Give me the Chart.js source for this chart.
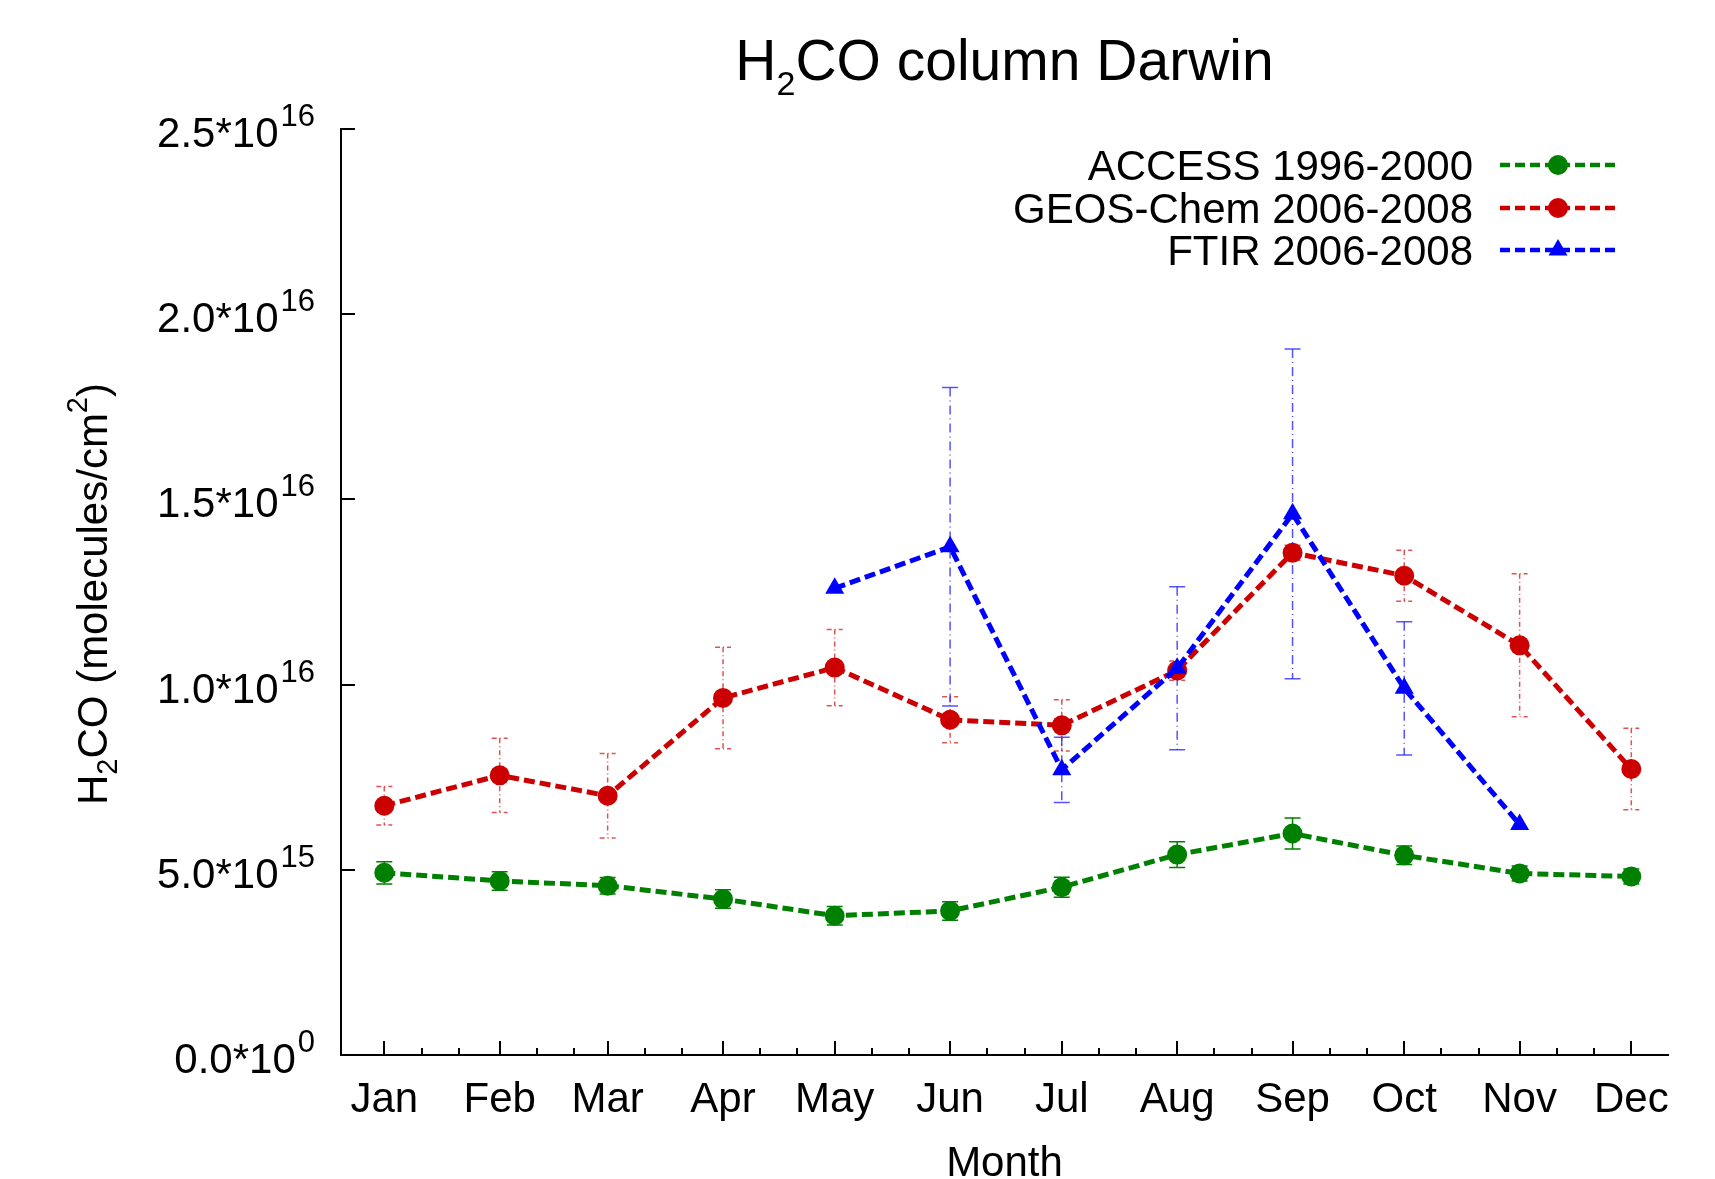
<!DOCTYPE html>
<html>
<head>
<meta charset="utf-8">
<script src="https://cdn.jsdelivr.net/npm/chart.js@4"></script>
<style>
  html, body { margin: 0; padding: 0; background: #fff; }
  canvas { display: block; }
</style>
</head>
<body>
<canvas id="chart" width="1715" height="1179"></canvas>
<script>
// month labels and the day of year where each one sits (leap year, 15th of month)
const months = ['Jan', 'Feb', 'Mar', 'Apr', 'May', 'Jun', 'Jul', 'Aug', 'Sep', 'Oct', 'Nov', 'Dec'];
const monthDays = [15, 46, 75, 106, 136, 167, 197, 228, 259, 289, 320, 350];

// ACCESS 1996-2000
const accessVals = [4.92e15, 4.70e15, 4.57e15, 4.21e15, 3.76e15, 3.89e15, 4.53e15, 5.41e15, 5.98e15, 5.39e15, 4.90e15, 4.82e15];
const accessErr = [0.30e15, 0.25e15, 0.22e15, 0.25e15, 0.25e15, 0.25e15, 0.27e15, 0.35e15, 0.42e15, 0.25e15, 0.20e15, 0.20e15];

// GEOS-Chem 2006-2008
const geosVals = [6.73e15, 7.55e15, 7.00e15, 9.64e15, 10.46e15, 9.05e15, 8.90e15, 10.38e15, 13.56e15, 12.94e15, 11.06e15, 7.72e15];
const geosErr = [0.52e15, 1.00e15, 1.14e15, 1.37e15, 1.03e15, 0.62e15, 0.69e15, 0.26e15, 0.20e15, 0.69e15, 1.93e15, 1.10e15];

// FTIR 2006-2008 (May to Nov only)
const ftirMonths = ['May', 'Jun', 'Jul', 'Aug', 'Sep', 'Oct', 'Nov'];
const ftirVals = [12.6e15, 13.72e15, 7.70e15, 10.44e15, 14.61e15, 9.90e15, 6.22e15];
const ftirErr = [null, 4.3e15, 0.88e15, 2.2e15, 4.45e15, 1.8e15, null];

// y axis tick labels
const yTickVals = [0, 5e15, 1e16, 1.5e16, 2e16, 2.5e16];
const yTickBase = ['0.0*10', '5.0*10', '1.0*10', '1.5*10', '2.0*10', '2.5*10'];
const yTickExp = ['0', '15', '16', '16', '16', '16'];

const FONT = '"Liberation Sans", Arial, sans-serif';
const GREEN = '#008000', RED = '#cc0000', BLUE = '#0000ff';

const accessX = monthDays;
const ftirX = ftirMonths.map(m => monthDays[months.indexOf(m)]);

const toPoints = (xs, ys) => xs.map((x, i) => ({ x, y: ys[i] }));

function richText(ctx, parts, x, y, align) {
  let w = 0;
  parts.forEach(p => {
    ctx.font = p.size + 'px ' + FONT;
    p.w = ctx.measureText(p.t).width + (p.gap || 0);
    w += p.w;
  });
  let cx = align === 'right' ? x - w : align === 'center' ? x - w / 2 : x;
  parts.forEach(p => {
    ctx.font = p.size + 'px ' + FONT;
    ctx.fillText(p.t, cx + (p.gap || 0), y + (p.dy || 0));
    cx += p.w;
  });
}

function drawErrors(chart, xs, ys, errs, color, dash, capDash) {
  const { ctx } = chart;
  const xs_ = chart.scales.x, ys_ = chart.scales.y;
  ctx.save();
  ctx.strokeStyle = color;
  ctx.lineWidth = 1.5;
  xs.forEach((xv, i) => {
    if (errs[i] == null) return;
    const px = xs_.getPixelForValue(xv);
    const top = ys_.getPixelForValue(ys[i] + errs[i]);
    const bot = ys_.getPixelForValue(ys[i] - errs[i]);
    ctx.setLineDash(dash);
    ctx.beginPath(); ctx.moveTo(px, top); ctx.lineTo(px, bot); ctx.stroke();
    ctx.setLineDash(capDash);
    ctx.beginPath();
    ctx.moveTo(px - 8, top); ctx.lineTo(px + 8, top);
    ctx.moveTo(px - 8, bot); ctx.lineTo(px + 8, bot);
    ctx.stroke();
  });
  ctx.restore();
}

const errorBars = {
  id: 'errorBars',
  beforeDatasetsDraw(chart) {
    drawErrors(chart, accessX, accessVals, accessErr, GREEN, [], []);
    drawErrors(chart, monthDays, geosVals, geosErr, 'rgba(214,40,40,0.8)', [5, 3, 1, 3], [5, 3, 1, 3]);
    drawErrors(chart, ftirX, ftirVals, ftirErr, 'rgba(40,40,255,0.8)', [9, 4, 1, 4], []);
  }
};

const decorations = {
  id: 'decorations',
  afterDraw(chart) {
    const { ctx, chartArea: area } = chart;
    const xs = chart.scales.x, ys = chart.scales.y;
    ctx.save();

    // inward tick marks
    ctx.strokeStyle = '#000';
    ctx.lineWidth = 2;
    ctx.beginPath();
    yTickVals.forEach(v => {
      const py = Math.round(ys.getPixelForValue(v));
      ctx.moveTo(area.left, py); ctx.lineTo(area.left + 14, py);
    });
    monthDays.forEach(d => {
      const px = Math.round(xs.getPixelForValue(d));
      ctx.moveTo(px, area.bottom); ctx.lineTo(px, area.bottom - 14);
      [10, 20].forEach(k => {
        if (d + k >= xs.max) return;
        const mx = Math.round(xs.getPixelForValue(d + k));
        ctx.moveTo(mx, area.bottom); ctx.lineTo(mx, area.bottom - 7);
      });
    });
    ctx.stroke();

    ctx.fillStyle = '#000';
    ctx.textBaseline = 'alphabetic';
    ctx.textAlign = 'left';

    // y tick labels with exponent
    yTickVals.forEach((v, i) => {
      const py = ys.getPixelForValue(v);
      richText(ctx, [
        { t: yTickBase[i], size: 42 },
        { t: yTickExp[i], size: 31, dy: -21, gap: 2 }
      ], 315, py + 18, 'right');
    });

    // title
    richText(ctx, [
      { t: 'H', size: 57 },
      { t: '2', size: 34, dy: 15 },
      { t: 'CO column Darwin', size: 57 }
    ], (area.left + area.right) / 2, 80, 'center');

    // y axis title
    ctx.save();
    ctx.translate(107, (area.top + area.bottom) / 2 + 2);
    ctx.rotate(-Math.PI / 2);
    richText(ctx, [
      { t: 'H', size: 42 },
      { t: '2', size: 29, dy: 10 },
      { t: 'CO (molecules/cm', size: 42 },
      { t: '2', size: 29, dy: -20 },
      { t: ')', size: 42 }
    ], 0, 0, 'center');
    ctx.restore();

    // legend
    const rows = [165, 208, 250];
    chart.data.datasets.forEach((ds, i) => {
      const ly = rows[i];
      ctx.fillStyle = '#000';
      richText(ctx, [{ t: ds.label, size: 42 }], 1473, ly + 15, 'right');
      ctx.strokeStyle = ds.borderColor;
      ctx.lineWidth = 4.5;
      ctx.setLineDash([10, 5]);
      ctx.beginPath(); ctx.moveTo(1500, ly); ctx.lineTo(1617, ly); ctx.stroke();
      ctx.setLineDash([]);
      ctx.fillStyle = ds.borderColor;
      ctx.beginPath();
      if (ds.pointStyle === 'triangle') {
        const r = 11;
        ctx.moveTo(1558, ly - r);
        ctx.lineTo(1558 + r * Math.sin(2 * Math.PI / 3), ly + r / 2);
        ctx.lineTo(1558 - r * Math.sin(2 * Math.PI / 3), ly + r / 2);
        ctx.closePath();
      } else {
        ctx.arc(1558, ly, 10, 0, Math.PI * 2);
      }
      ctx.fill();
    });

    ctx.restore();
  }
};

const lineStyle = color => ({
  borderColor: color,
  backgroundColor: color,
  pointBackgroundColor: color,
  pointBorderWidth: 0,
  borderWidth: 5,
  borderDash: [11, 5],
  tension: 0
});

new Chart(document.getElementById('chart').getContext('2d'), {
  type: 'line',
  data: {
    datasets: [
      { label: 'ACCESS 1996-2000', data: toPoints(accessX, accessVals), order: 3, pointStyle: 'circle', pointRadius: 10, ...lineStyle(GREEN) },
      { label: 'GEOS-Chem 2006-2008', data: toPoints(monthDays, geosVals), order: 2, pointStyle: 'circle', pointRadius: 10, ...lineStyle(RED) },
      { label: 'FTIR 2006-2008', data: toPoints(ftirX, ftirVals), order: 1, pointStyle: 'triangle', pointRadius: 11, ...lineStyle(BLUE) }
    ]
  },
  options: {
    responsive: false,
    animation: false,
    layout: { padding: { top: 129, right: 47, left: 0, bottom: 0 } },
    plugins: { legend: { display: false }, title: { display: false }, tooltip: { enabled: false } },
    scales: {
      x: {
        type: 'linear',
        min: 3.37,
        max: 359.86,
        grid: { display: true, drawOnChartArea: false, drawTicks: false },
        border: { display: true, color: '#000', width: 2 },
        afterBuildTicks: s => { s.ticks = monthDays.map(v => ({ value: v })); },
        afterFit: s => { s.height = 124; },
        ticks: {
          autoSkip: false,
          maxRotation: 0,
          padding: 20,
          color: '#000',
          font: { family: FONT, size: 42 },
          callback: v => months[monthDays.indexOf(v)] || ''
        },
        title: {
          display: true,
          text: 'Month',
          color: '#000',
          padding: 0,
          font: { family: FONT, size: 42, lineHeight: 0.7 }
        }
      },
      y: {
        min: 0,
        max: 2.5e16,
        grid: { display: true, drawOnChartArea: false, drawTicks: false },
        border: { display: true, color: '#000', width: 2 },
        afterBuildTicks: s => { s.ticks = yTickVals.map(v => ({ value: v })); },
        afterFit: s => { s.width = 341; },
        ticks: { display: false }
      }
    }
  },
  plugins: [errorBars, decorations]
});
</script>
</body>
</html>
